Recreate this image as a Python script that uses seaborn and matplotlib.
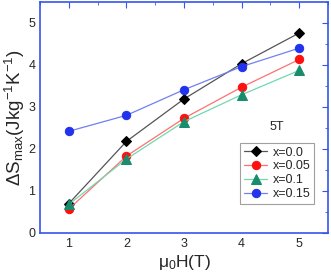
import matplotlib
matplotlib.use("Agg")
import matplotlib.pyplot as plt
import seaborn as sns
import pandas as pd
from matplotlib.ticker import MultipleLocator

# data
field = [1, 2, 3, 4, 5]
s_00 = [0.70, 2.18, 3.19, 4.03, 4.76]
s_005 = [0.57, 1.83, 2.73, 3.47, 4.13]
s_01 = [0.68, 1.76, 2.65, 3.29, 3.87]
s_015 = [2.42, 2.80, 3.41, 3.96, 4.40]

labels = ['x=0.0', 'x=0.05', 'x=0.1', 'x=0.15']
series = [s_00, s_005, s_01, s_015]
markers = ['D', 'o', '^', 'o']
mcolors = ['#000000', '#ff1010', '#1a8c6e', '#2233ee']
lcolors = ['#555555', '#ff7070', '#70d8b0', '#7080f0']
msizes = [5, 6, 6.5, 6]

sns.set_style("white")
plt.rcParams['font.family'] = ['Liberation Sans', 'DejaVu Sans']
plt.rcParams['mathtext.fontset'] = 'custom'
plt.rcParams['mathtext.rm'] = 'Liberation Sans'
plt.rcParams['mathtext.it'] = 'Liberation Sans'

fig = plt.figure(figsize=(3.31, 2.75), dpi=100)
ax = fig.add_axes([0.121, 0.153, 0.870, 0.840])

for lab, ys, m, mc, lc, ms in zip(labels, series, markers, mcolors, lcolors, msizes):
    df = pd.DataFrame({'H': field, 'S': ys})
    sns.lineplot(data=df, x='H', y='S', ax=ax, color=lc, lw=0.9,
                 marker=m, markersize=ms, mfc=mc, mec=mc, label=lab)

ax.set_xlim(0.5, 5.5)
ax.set_ylim(0, 5.5)
ax.xaxis.set_major_locator(MultipleLocator(1))
ax.xaxis.set_minor_locator(MultipleLocator(0.5))
ax.yaxis.set_major_locator(MultipleLocator(1))
ax.yaxis.set_minor_locator(MultipleLocator(0.5))
ax.tick_params(which='both', direction='in', top=True, right=True,
               color='#3355ee', labelsize=9)
ax.tick_params(which='major', length=4)
ax.tick_params(which='minor', length=2)
for sp in ax.spines.values():
    sp.set_color('#3355ee')
    sp.set_linewidth(1.2)

ax.set_xlabel(r'$\mathregular{\mu_0H(T)}$', fontsize=12.5, labelpad=2)
ax.set_ylabel(r'$\mathregular{\Delta S_{max}(Jkg^{-1}K^{-1})}$', fontsize=13.5, labelpad=1)
ax.text(0.823, 0.459, '5T', transform=ax.transAxes, fontsize=9, ha='center', va='center')

leg = ax.legend(loc='upper left', bbox_to_anchor=(0.694, 0.39), fontsize=9,
                frameon=True, fancybox=False, edgecolor='#888888',
                handlelength=1.9, borderpad=0.3, labelspacing=0.15,
                handletextpad=0.4, borderaxespad=0)
leg.get_frame().set_linewidth(0.8)

fig.savefig('out.png', dpi=100)
